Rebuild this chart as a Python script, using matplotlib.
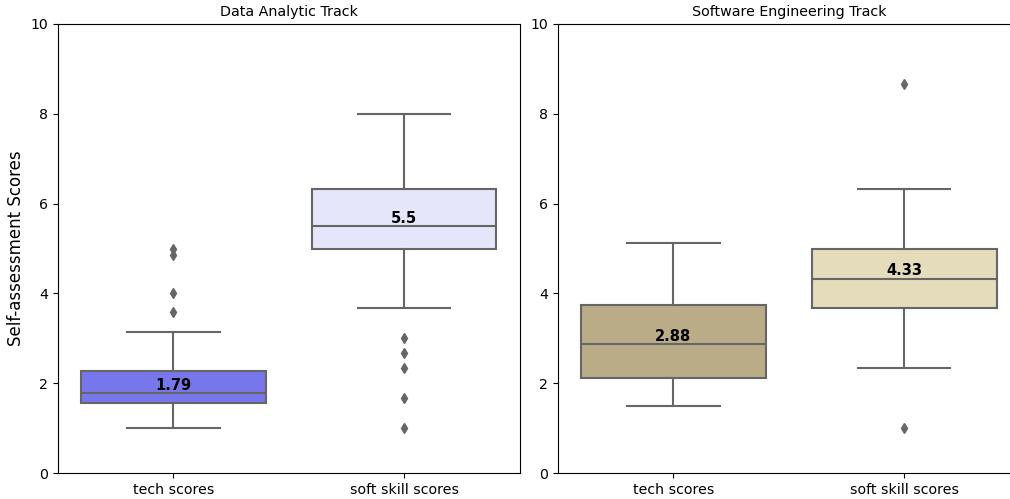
import matplotlib.pyplot as plt

# summary statistics per track (score scale 0-10)
categories = ["tech scores", "soft skill scores"]
titles = ["Data Analytic Track", "Software Engineering Track"]

da_med = [1.79, 5.5]
da_q1 = [1.56, 5.0]
da_q3 = [2.27, 6.33]
da_whislo = [1.0, 3.67]
da_whishi = [3.14, 8.0]
da_fliers = [[3.58, 4.0, 4.86, 5.0], [1.0, 1.67, 2.33, 2.67, 3.0]]

se_med = [2.88, 4.33]
se_q1 = [2.12, 3.67]
se_q3 = [3.75, 5.0]
se_whislo = [1.5, 2.33]
se_whishi = [5.12, 6.33]
se_fliers = [[], [1.0, 8.67]]

da_colors = ["#7777eb", "#e6e6fa"]
se_colors = ["#b9ac87", "#e5dcbc"]

line_color = "#666666"


def draw_panel(ax, med, q1, q3, lo, hi, fliers, colors, title):
    stats = []
    for i, lab in enumerate(categories):
        stats.append({"med": med[i], "q1": q1[i], "q3": q3[i],
                      "whislo": lo[i], "whishi": hi[i],
                      "fliers": fliers[i], "label": lab})
    bp = ax.bxp(stats, positions=[0, 1], widths=0.8, patch_artist=True,
                showfliers=True,
                boxprops=dict(edgecolor=line_color, linewidth=1.5),
                medianprops=dict(color=line_color, linewidth=1.5),
                whiskerprops=dict(color=line_color, linewidth=1.5),
                capprops=dict(color=line_color, linewidth=1.5),
                flierprops=dict(marker="d", markersize=5,
                                markerfacecolor=line_color,
                                markeredgecolor=line_color))
    for patch, c in zip(bp["boxes"], colors):
        patch.set_facecolor(c)
    # caps at half the box width, seaborn style
    for cap in bp["caps"]:
        xs = cap.get_xdata()
        mid = (xs[0] + xs[1]) / 2
        cap.set_xdata([mid - 0.2, mid + 0.2])
    for i, m in enumerate(med):
        ax.text(i, m + 0.17, f"{m:g}", ha="center", va="center",
                fontsize=10.5, fontweight="bold", color="black")
    ax.set_xlim(-0.5, 1.5)
    ax.set_ylim(0, 10)
    ax.set_title(title, fontsize=10.3)
    ax.tick_params(labelsize=10.2)


fig = plt.figure(figsize=(10.1, 4.99), dpi=100)
ax1 = fig.add_axes([0.0574, 0.052, 0.4570, 0.900])
ax2 = fig.add_axes([0.5525, 0.052, 0.4570, 0.900])

draw_panel(ax1, da_med, da_q1, da_q3, da_whislo, da_whishi, da_fliers,
           da_colors, titles[0])
draw_panel(ax2, se_med, se_q1, se_q3, se_whislo, se_whishi, se_fliers,
           se_colors, titles[1])
# second panel runs past the figure edge, so no right border
ax2.spines["right"].set_visible(False)
ax1.set_ylabel("Self-assessment Scores", fontsize=12)
ax1.yaxis.set_label_coords(-0.072, 0.5)

fig.savefig("out.png", dpi=100)
